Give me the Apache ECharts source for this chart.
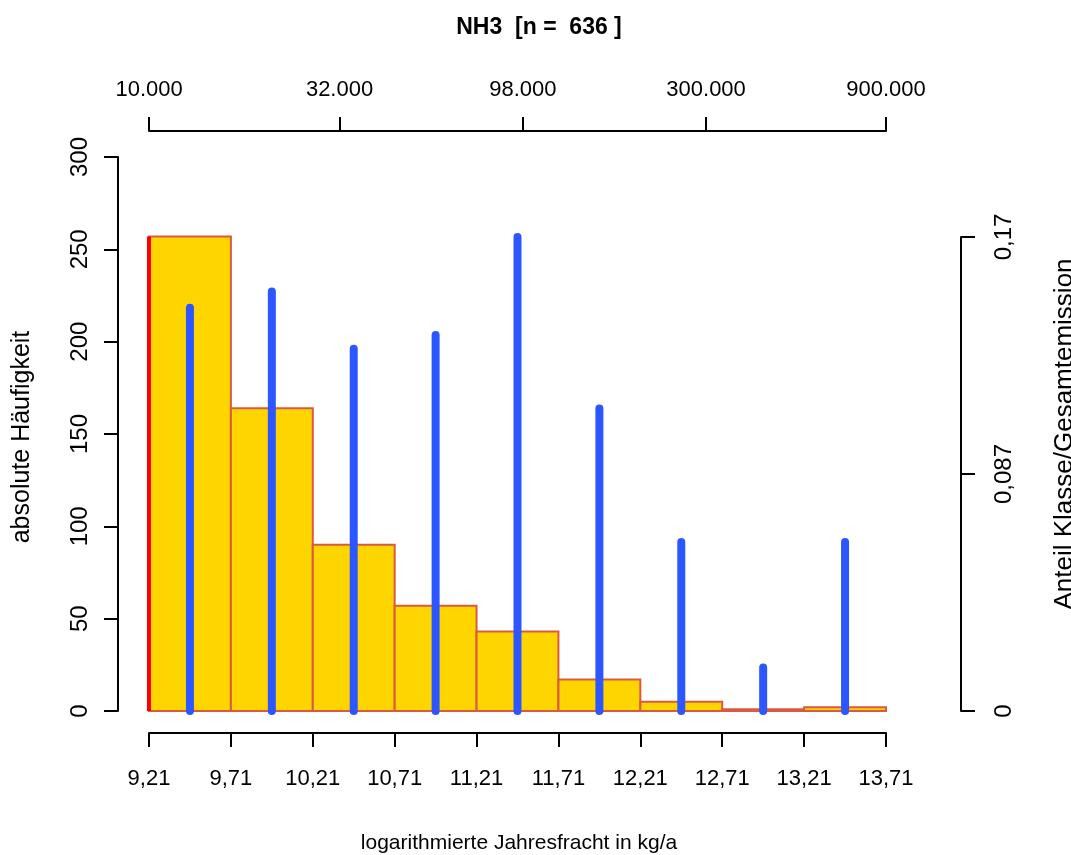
<!DOCTYPE html>
<html>
<head>
<meta charset="utf-8">
<script src="https://cdn.jsdelivr.net/npm/echarts@6/dist/echarts.min.js"></script>
<style>
html,body{margin:0;padding:0;background:#fff;}
#c{width:1071px;height:855px;}
</style>
</head>
<body>
<div id="c"></div>
<script>
// ---- data ----
const binEdges = [9.21, 9.71, 10.21, 10.71, 11.21, 11.71, 12.21, 12.71, 13.21, 13.71];
const counts = [257, 164, 90, 57, 43, 17, 5, 1, 2];
const emissionShare = [0.148, 0.154, 0.133, 0.138, 0.174, 0.111, 0.062, 0.016, 0.062];
const bottomTicks = [9.21, 9.71, 10.21, 10.71, 11.21, 11.71, 12.21, 12.71, 13.21, 13.71];
const topTickValues = [10000, 32000, 98000, 300000, 900000];
const topTickLabels = ['10.000', '32.000', '98.000', '300.000', '900.000'];
const rightTicks = [0, 0.087, 0.174];
const rightTickLabels = ['0', '0,087', '0,17'];
const titleText = 'NH3  [n =  636 ]';

// ---- build ----
const FONT = '"Liberation Sans", Arial, Helvetica, sans-serif';
const xMin = binEdges[0], xMax = binEdges[binEdges.length - 1];
const barData = counts.map((c, i) => [binEdges[i], binEdges[i + 1], c]);
const lineData = emissionShare.map((s, i) => [(binEdges[i] + binEdges[i + 1]) / 2, s]);
const topPos = topTickValues.map(v => Math.log(v));

function nearestIdx(arr, v) {
  let best = 0, d = Infinity;
  arr.forEach((a, i) => { const dd = Math.abs(a - v); if (dd < d) { d = dd; best = i; } });
  return best;
}

const axisLineStyle = { color: '#000', width: 2 };
const chart = echarts.init(document.getElementById('c'));
chart.setOption({
  animation: false,
  backgroundColor: '#fff',
  grid: [
    { left: 149, right: 185, top: 157, bottom: 144 },
    { left: 149, right: 185, top: 237, bottom: 144 }
  ],
  xAxis: [
    {
      gridIndex: 0, type: 'value', min: xMin, max: xMax, position: 'bottom', offset: 22,
      axisLine: { show: true, onZero: false, lineStyle: axisLineStyle },
      axisTick: { show: true, length: 14, lineStyle: axisLineStyle, customValues: bottomTicks },
      axisLabel: { show: true, customValues: bottomTicks, margin: 35, color: '#000', fontSize: 22, fontFamily: FONT,
        showMaxLabel: true, showMinLabel: true, hideOverlap: false,
        formatter: v => v.toFixed(2).replace('.', ',') },
      splitLine: { show: false }
    },
    {
      gridIndex: 0, type: 'value', min: Math.min(xMin, topPos[0]), max: Math.max(xMax, topPos[topPos.length - 1]),
      position: 'top', offset: 26,
      axisLine: { show: true, onZero: false, lineStyle: axisLineStyle },
      axisTick: { show: true, length: 14, lineStyle: axisLineStyle, customValues: topPos },
      axisLabel: { show: true, customValues: topPos, margin: 30, color: '#000', fontSize: 22, fontFamily: FONT,
        showMaxLabel: true, showMinLabel: true, hideOverlap: false,
        formatter: v => topTickLabels[nearestIdx(topPos, v)] },
      splitLine: { show: false }
    },
    {
      gridIndex: 1, type: 'value', min: xMin, max: xMax, show: false
    }
  ],
  yAxis: [
    {
      gridIndex: 0, type: 'value', min: 0, max: 300, interval: 50, position: 'left', offset: 31,
      axisLine: { show: true, lineStyle: axisLineStyle },
      axisTick: { show: true, length: 14, lineStyle: axisLineStyle },
      axisLabel: { show: true, rotate: 90, margin: 38, color: '#000', fontSize: 24, fontFamily: FONT,
        verticalAlign: 'middle', align: 'center' },
      splitLine: { show: false }
    },
    {
      gridIndex: 1, type: 'value', min: 0, max: rightTicks[rightTicks.length - 1], position: 'right', offset: 75,
      axisLine: { show: true, lineStyle: axisLineStyle },
      axisTick: { show: true, length: 14, lineStyle: axisLineStyle, customValues: rightTicks },
      axisLabel: { show: true, customValues: rightTicks, rotate: 90, margin: 43, color: '#000', fontSize: 24, fontFamily: FONT,
        verticalAlign: 'middle', align: 'center', showMaxLabel: true,
        formatter: v => rightTickLabels[nearestIdx(rightTicks, v)] },
      splitLine: { show: false }
    }
  ],
  graphic: [
    { type: 'text', x: 539, y: 28,
      style: { text: titleText, font: 'bold 23px ' + FONT, fill: '#000',
        align: 'center', verticalAlign: 'middle' }, z: 10 },
    { type: 'text', x: 519, y: 843,
      style: { text: 'logarithmierte Jahresfracht in kg/a', font: '21px ' + FONT, fill: '#000',
        align: 'center', verticalAlign: 'middle' } },
    { type: 'text', x: 22, y: 437, rotation: Math.PI / 2,
      style: { text: 'absolute Häufigkeit', font: '25px ' + FONT, fill: '#000',
        align: 'center', verticalAlign: 'middle' } },
    { type: 'text', x: 1065, y: 434, rotation: Math.PI / 2,
      style: { text: 'Anteil Klasse/Gesamtemission', font: '26px ' + FONT, fill: '#000',
        align: 'center', verticalAlign: 'middle' } }
  ],
  series: [
    {
      type: 'custom', xAxisIndex: 0, yAxisIndex: 0, data: barData, z: 2,
      encode: { x: [0, 1], y: 2 },
      renderItem: function (params, api) {
        const p0 = api.coord([api.value(0), 0]);
        const p1 = api.coord([api.value(1), api.value(2)]);
        return { type: 'rect',
          shape: { x: p0[0], y: p1[1], width: p1[0] - p0[0], height: p0[1] - p1[1] },
          style: { fill: '#FFD500', stroke: '#DA5A40', lineWidth: 2 } };
      }
    },
    {
      type: 'custom', xAxisIndex: 2, yAxisIndex: 1, data: lineData, z: 3,
      encode: { x: 0, y: 1 },
      renderItem: function (params, api) {
        const p0 = api.coord([api.value(0), 0]);
        const p1 = api.coord([api.value(0), api.value(1)]);
        return { type: 'line',
          shape: { x1: p0[0], y1: p0[1], x2: p1[0], y2: p1[1] },
          style: { stroke: '#2C56FF', lineWidth: 8, lineCap: 'round' } };
      }
    },
    {
      type: 'custom', xAxisIndex: 0, yAxisIndex: 0, data: [[binEdges[0], counts[0]]], z: 4,
      encode: { x: 0, y: 1 },
      renderItem: function (params, api) {
        const p0 = api.coord([api.value(0), 0]);
        const p1 = api.coord([api.value(0), api.value(1)]);
        return { type: 'line',
          shape: { x1: p0[0], y1: p0[1], x2: p1[0], y2: p1[1] },
          style: { stroke: '#FF0000', lineWidth: 4 } };
      }
    }
  ]
});
</script>
</body>
</html>
